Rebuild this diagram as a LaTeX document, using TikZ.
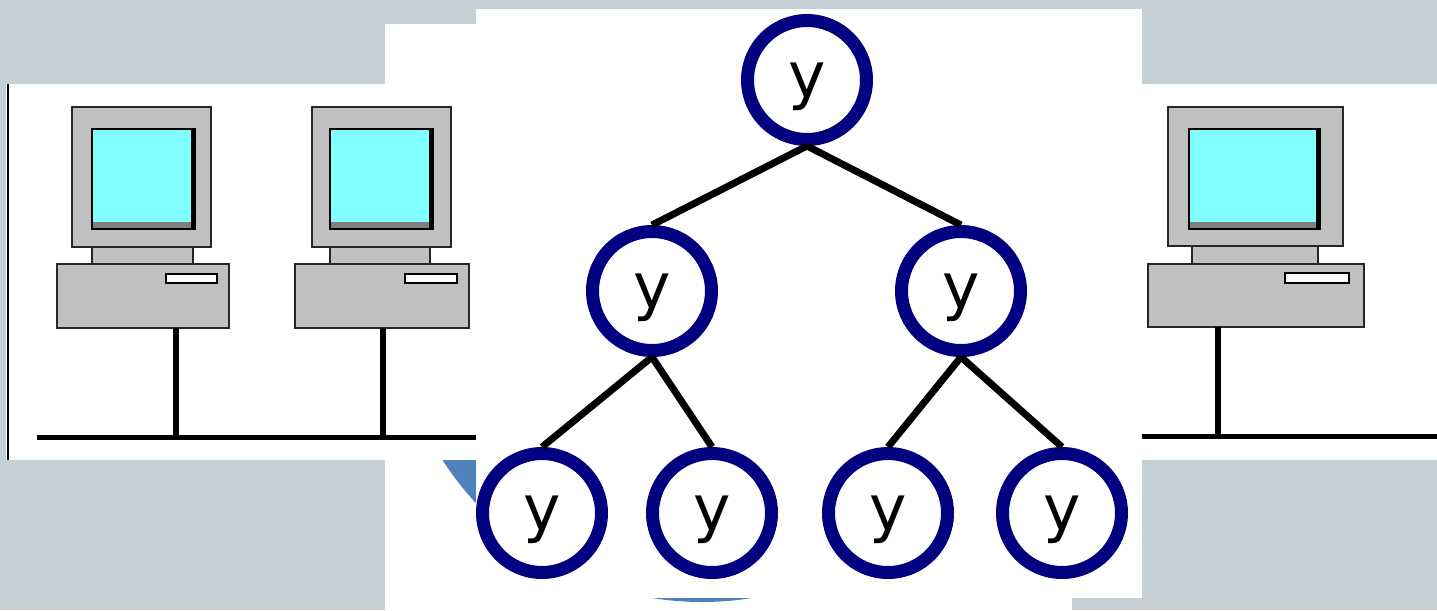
\documentclass[tikz,border=0pt]{standalone}
\usepackage{fontspec}
\setsansfont{DejaVu Sans}
\usepackage{tikz}
\usetikzlibrary{positioning}
\definecolor{slate}{HTML}{C5D0D7}
\definecolor{casegray}{HTML}{C0C0C0}
\definecolor{crt}{HTML}{80FFFF}
\definecolor{navy}{HTML}{000080}
\definecolor{office}{HTML}{4F81BD}
\tikzset{
  panel/.style={fill=white, draw=none},
  casing/.style={draw=black!85, fill=casegray, line width=1.5pt},
  crtglass/.style={draw=black, fill=crt, line width=1.2pt},
  drive/.style={draw=black, fill=white, line width=1.2pt},
  cable/.style={line width=0.12cm, color=black},
  bus/.style={line width=0.1cm, color=black},
  vertex/.style={
    circle, draw=navy, fill=white, line width=0.26cm,
    minimum size=2.38cm, inner sep=0pt, text depth=0pt,
    font=\sffamily\fontsize{36}{36}\selectfont
  },
  branch/.style={line width=0.14cm, color=black},
}

\begin{document}
\begin{tikzpicture}[x=0.02cm, y=-0.02cm]
  \useasboundingbox (0,0) rectangle (1437,610);
  \fill[slate] (0,0) rectangle (1437,610);

  % back sheet with the big blue disc
  \fill[panel] (385,24) rectangle (1072,610);
  \begin{scope}
    \clip (385,24) rectangle (1072,610);
    \fill[office] (702,294) circle[radius=308];
  \end{scope}

  % left network sheet
  \fill[panel] (6,84) rectangle (476,460);
  \draw[line width=0.04cm] (8,84) -- (8,460);
  \coordinate (busL) at (37,437);
  \coordinate (busLend) at (476,437);
  \draw[bus] (busL) -- (busLend);

  % first station
  \draw[casing] (72,107) rectangle (211,247);
  \draw[crtglass] (92,129) rectangle (195,229);
  \fill[black] (191,129) rectangle (195,229);
  \fill[black!50] (93,222) rectangle (191,228);
  \draw[casing] (92,247) rectangle (193,264);
  \draw[casing] (57,264) rectangle (229,328);
  \draw[drive] (166,274) rectangle (217,283);
  \coordinate (pc1) at (176,328);
  \coordinate (tap1) at (176,437);
  \draw[cable] (pc1) -- (tap1);

  % second station
  \draw[casing] (312,107) rectangle (451,247);
  \draw[crtglass] (330,129) rectangle (433,229);
  \fill[black] (429,129) rectangle (433,229);
  \fill[black!50] (331,222) rectangle (429,228);
  \draw[casing] (330,247) rectangle (430,264);
  \draw[casing] (295,264) rectangle (469,328);
  \draw[drive] (405,274) rectangle (457,283);
  \coordinate (pc2) at (383,328);
  \coordinate (tap2) at (383,437);
  \draw[cable] (pc2) -- (tap2);

  % right network sheet
  \fill[panel] (1142,84) rectangle (1437,460);
  \coordinate (busR) at (1142,436);
  \coordinate (busRend) at (1437,436);
  \draw[bus] (busR) -- (busRend);

  % third station
  \draw[casing] (1168,107) rectangle (1343,246);
  \draw[crtglass] (1189,129) rectangle (1320,229);
  \fill[black] (1316,129) rectangle (1320,229);
  \fill[black!50] (1190,222) rectangle (1316,228);
  \draw[casing] (1192,246) rectangle (1318,264);
  \draw[casing] (1148,264) rectangle (1364,327);
  \draw[drive] (1285,273) rectangle (1349,283);
  \coordinate (pc3) at (1218,327);
  \coordinate (tap3) at (1218,436);
  \draw[cable] (pc3) -- (tap3);

  % tree sheet
  \fill[panel] (476,9) rectangle (1142,598);

  \node[vertex] (root) at (807,80)  {y};
  \node[vertex] (nl)   at (652,291) {y};
  \node[vertex] (nr)   at (961,291) {y};
  \node[vertex] (nll)  at (542,513) {y};
  \node[vertex] (nlr)  at (712,513) {y};
  \node[vertex] (nrl)  at (888,513) {y};
  \node[vertex] (nrr)  at (1062,513) {y};

  \draw[branch] (root.south) -- (nl.north);
  \draw[branch] (root.south) -- (nr.north);
  \draw[branch] (nl.south) -- (nll.north);
  \draw[branch] (nl.south) -- (nlr.north);
  \draw[branch] (nr.south) -- (nrl.north);
  \draw[branch] (nr.south) -- (nrr.north);
\end{tikzpicture}
\end{document}
